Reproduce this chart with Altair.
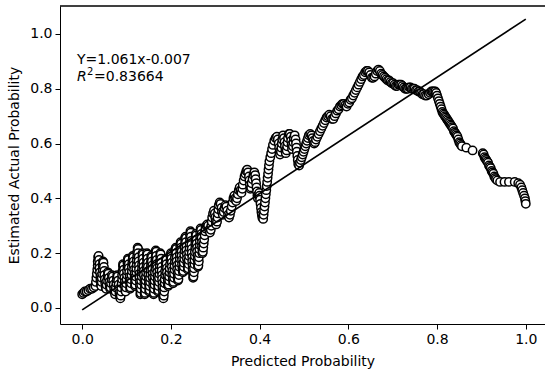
import altair as alt
import pandas as pd

# Calibration curve: (predicted, estimated actual) pairs, in plotting order
pts_start = [
    (0.000, 0.050), (0.003, 0.055), (0.006, 0.060), (0.010, 0.060), (0.014, 0.065),
    (0.018, 0.070), (0.022, 0.070), (0.026, 0.075),
]

pts_low = [
    (0.030, 0.080), (0.031, 0.095), (0.032, 0.110), (0.033, 0.125), (0.034, 0.140), (0.035, 0.155), (0.035, 0.170), (0.036, 0.185),
    (0.037, 0.190), (0.038, 0.175), (0.039, 0.160), (0.039, 0.145), (0.040, 0.130), (0.041, 0.115), (0.041, 0.100), (0.042, 0.085),
    (0.043, 0.080), (0.044, 0.095), (0.044, 0.110), (0.045, 0.125), (0.046, 0.140), (0.046, 0.155), (0.047, 0.170),
    (0.048, 0.165), (0.049, 0.150), (0.050, 0.135), (0.050, 0.120), (0.051, 0.105), (0.052, 0.090), (0.053, 0.075),
    (0.054, 0.070), (0.055, 0.085), (0.056, 0.100), (0.057, 0.115), (0.058, 0.130),
    (0.059, 0.125), (0.060, 0.110), (0.061, 0.095), (0.062, 0.080), (0.063, 0.070),
    (0.064, 0.075), (0.065, 0.090), (0.066, 0.105), (0.067, 0.120),
    (0.069, 0.115), (0.070, 0.100), (0.071, 0.085), (0.072, 0.070), (0.073, 0.060), (0.074, 0.050),
    (0.075, 0.060), (0.076, 0.075), (0.077, 0.090), (0.078, 0.105), (0.079, 0.120),
    (0.080, 0.115), (0.081, 0.100), (0.082, 0.085), (0.083, 0.070), (0.084, 0.055), (0.085, 0.045), (0.086, 0.035),
    (0.087, 0.045), (0.088, 0.060), (0.088, 0.075), (0.089, 0.090), (0.090, 0.105), (0.090, 0.120), (0.091, 0.135), (0.092, 0.150), (0.092, 0.160),
    (0.093, 0.155), (0.094, 0.140), (0.094, 0.125), (0.095, 0.110), (0.096, 0.095), (0.096, 0.080), (0.097, 0.065),
    (0.098, 0.060), (0.099, 0.075), (0.099, 0.090), (0.100, 0.105), (0.101, 0.120), (0.101, 0.135), (0.102, 0.150), (0.102, 0.165), (0.103, 0.180),
    (0.104, 0.175), (0.105, 0.160), (0.105, 0.145), (0.106, 0.130), (0.107, 0.115), (0.107, 0.100), (0.108, 0.085), (0.108, 0.070),
    (0.109, 0.075), (0.110, 0.090), (0.110, 0.105), (0.111, 0.120), (0.112, 0.135), (0.112, 0.150), (0.113, 0.165), (0.114, 0.180), (0.114, 0.190),
    (0.115, 0.185), (0.116, 0.170), (0.116, 0.155), (0.117, 0.140), (0.118, 0.125), (0.118, 0.110), (0.119, 0.095), (0.119, 0.080),
    (0.120, 0.085), (0.121, 0.100), (0.121, 0.115), (0.122, 0.130), (0.122, 0.145), (0.123, 0.160), (0.123, 0.175), (0.124, 0.190), (0.124, 0.205), (0.125, 0.220),
    (0.126, 0.215), (0.126, 0.200), (0.127, 0.185), (0.127, 0.170), (0.128, 0.155), (0.128, 0.140), (0.129, 0.125), (0.129, 0.110), (0.130, 0.095), (0.130, 0.080), (0.131, 0.065), (0.131, 0.050),
    (0.132, 0.055), (0.132, 0.070), (0.133, 0.085), (0.133, 0.100), (0.134, 0.115), (0.134, 0.130), (0.135, 0.145), (0.135, 0.160), (0.136, 0.175), (0.136, 0.190), (0.136, 0.200),
    (0.137, 0.195), (0.137, 0.180), (0.138, 0.165), (0.138, 0.150), (0.139, 0.135), (0.139, 0.120), (0.140, 0.105), (0.140, 0.090), (0.141, 0.075), (0.141, 0.060), (0.141, 0.050),
    (0.142, 0.055), (0.142, 0.070), (0.143, 0.085), (0.143, 0.100), (0.144, 0.115), (0.144, 0.130), (0.145, 0.145), (0.145, 0.160), (0.146, 0.175), (0.146, 0.190), (0.146, 0.200),
    (0.147, 0.195), (0.147, 0.180), (0.148, 0.165), (0.148, 0.150), (0.149, 0.135), (0.149, 0.120), (0.150, 0.105), (0.150, 0.090), (0.151, 0.075), (0.151, 0.060),
    (0.152, 0.065), (0.152, 0.080), (0.153, 0.095), (0.153, 0.110), (0.154, 0.125), (0.154, 0.140), (0.155, 0.155), (0.155, 0.170), (0.156, 0.185), (0.156, 0.190),
    (0.157, 0.185), (0.157, 0.170), (0.158, 0.155), (0.158, 0.140), (0.159, 0.125), (0.159, 0.110), (0.160, 0.095), (0.160, 0.080), (0.161, 0.065), (0.161, 0.050),
    (0.162, 0.055), (0.162, 0.070), (0.163, 0.085), (0.163, 0.100), (0.164, 0.115), (0.164, 0.130), (0.165, 0.145), (0.165, 0.160), (0.165, 0.175), (0.166, 0.190), (0.166, 0.205), (0.166, 0.210),
    (0.167, 0.205), (0.167, 0.190), (0.168, 0.175), (0.168, 0.160), (0.169, 0.145), (0.169, 0.130), (0.170, 0.115), (0.170, 0.100), (0.171, 0.085), (0.171, 0.070), (0.171, 0.060),
    (0.172, 0.065), (0.172, 0.080), (0.173, 0.095), (0.173, 0.110), (0.174, 0.125), (0.174, 0.140), (0.175, 0.155), (0.175, 0.170), (0.176, 0.185), (0.176, 0.200),
    (0.177, 0.195), (0.178, 0.180), (0.178, 0.165), (0.179, 0.150), (0.179, 0.135), (0.180, 0.120), (0.180, 0.105), (0.181, 0.090), (0.181, 0.075), (0.182, 0.060), (0.182, 0.045), (0.183, 0.035),
    (0.184, 0.045), (0.185, 0.060), (0.185, 0.075), (0.186, 0.090), (0.186, 0.105), (0.187, 0.120), (0.187, 0.135), (0.188, 0.150), (0.188, 0.165), (0.189, 0.180),
    (0.190, 0.175), (0.190, 0.160), (0.191, 0.145), (0.191, 0.130), (0.192, 0.115), (0.193, 0.100), (0.193, 0.085), (0.194, 0.080),
    (0.195, 0.085), (0.196, 0.100), (0.196, 0.115), (0.197, 0.130), (0.197, 0.145), (0.198, 0.160), (0.199, 0.175), (0.199, 0.190), (0.200, 0.200),
    (0.201, 0.195), (0.201, 0.180), (0.202, 0.165), (0.202, 0.150), (0.203, 0.135), (0.203, 0.120), (0.204, 0.105), (0.205, 0.090),
    (0.206, 0.095), (0.207, 0.110), (0.207, 0.125), (0.208, 0.140), (0.208, 0.155), (0.209, 0.170), (0.209, 0.185), (0.210, 0.200), (0.210, 0.215), (0.211, 0.220),
    (0.212, 0.215), (0.212, 0.200), (0.213, 0.185), (0.213, 0.170), (0.214, 0.155), (0.214, 0.140), (0.215, 0.125), (0.215, 0.110), (0.216, 0.100),
    (0.217, 0.105), (0.218, 0.120), (0.218, 0.135), (0.219, 0.150), (0.219, 0.165), (0.220, 0.180), (0.220, 0.195), (0.221, 0.210), (0.221, 0.225), (0.222, 0.240),
    (0.223, 0.235), (0.223, 0.220), (0.224, 0.205), (0.224, 0.190), (0.225, 0.175), (0.225, 0.160), (0.226, 0.145), (0.227, 0.130),
    (0.228, 0.135), (0.229, 0.150), (0.229, 0.165), (0.230, 0.180), (0.230, 0.195), (0.231, 0.210), (0.231, 0.225), (0.232, 0.240), (0.232, 0.255), (0.233, 0.260),
    (0.234, 0.255), (0.234, 0.240), (0.235, 0.225), (0.235, 0.210), (0.236, 0.195), (0.236, 0.180), (0.237, 0.165), (0.238, 0.150), (0.238, 0.140),
    (0.239, 0.145), (0.240, 0.160), (0.240, 0.175), (0.241, 0.190), (0.241, 0.205), (0.242, 0.220), (0.242, 0.235), (0.243, 0.250), (0.243, 0.265), (0.244, 0.280),
    (0.245, 0.275), (0.245, 0.260), (0.246, 0.245), (0.246, 0.230), (0.247, 0.215), (0.247, 0.200), (0.248, 0.185), (0.248, 0.170), (0.249, 0.155), (0.249, 0.140), (0.250, 0.125), (0.250, 0.110),
    (0.251, 0.115), (0.252, 0.130), (0.252, 0.145), (0.253, 0.160), (0.253, 0.175), (0.254, 0.190), (0.254, 0.205), (0.255, 0.220), (0.255, 0.235), (0.256, 0.250), (0.256, 0.265), (0.256, 0.270),
    (0.257, 0.265), (0.258, 0.250), (0.258, 0.235), (0.259, 0.220), (0.259, 0.205), (0.260, 0.190), (0.260, 0.175), (0.261, 0.160), (0.261, 0.150),
    (0.262, 0.155), (0.263, 0.170), (0.263, 0.185), (0.264, 0.200), (0.264, 0.215), (0.265, 0.230), (0.265, 0.245), (0.266, 0.260), (0.266, 0.275), (0.267, 0.290),
    (0.268, 0.285), (0.269, 0.270), (0.269, 0.255), (0.270, 0.240), (0.270, 0.225), (0.271, 0.210), (0.271, 0.200),
    (0.272, 0.205), (0.273, 0.220), (0.274, 0.235), (0.275, 0.250), (0.276, 0.265), (0.277, 0.280), (0.278, 0.290), (0.280, 0.300), (0.282, 0.305),
]

pts_mid = [
    (0.284, 0.300), (0.286, 0.285), (0.288, 0.275), (0.290, 0.285), (0.291, 0.300), (0.292, 0.315), (0.293, 0.330),
    (0.295, 0.345), (0.297, 0.355), (0.299, 0.345), (0.300, 0.330), (0.301, 0.315), (0.302, 0.305), (0.304, 0.315),
    (0.305, 0.330), (0.306, 0.345), (0.307, 0.360), (0.308, 0.375), (0.310, 0.385), (0.312, 0.380), (0.314, 0.365),
    (0.315, 0.350), (0.317, 0.340), (0.319, 0.350), (0.321, 0.365), (0.323, 0.375), (0.325, 0.370), (0.327, 0.355),
    (0.329, 0.340), (0.331, 0.330), (0.333, 0.340), (0.335, 0.355), (0.337, 0.370), (0.339, 0.385), (0.341, 0.400),
    (0.343, 0.410), (0.345, 0.400), (0.347, 0.390), (0.349, 0.400), (0.351, 0.415), (0.353, 0.430), (0.355, 0.440),
    (0.357, 0.430), (0.359, 0.420), (0.361, 0.435), (0.362, 0.450), (0.364, 0.465), (0.366, 0.480), (0.368, 0.490),
    (0.370, 0.500), (0.372, 0.505), (0.374, 0.495), (0.376, 0.480), (0.377, 0.465), (0.378, 0.450), (0.379, 0.435),
    (0.381, 0.440), (0.382, 0.455), (0.384, 0.470), (0.386, 0.485), (0.388, 0.495), (0.390, 0.485), (0.391, 0.470),
    (0.392, 0.455), (0.393, 0.440), (0.394, 0.425), (0.395, 0.410), (0.396, 0.400), (0.398, 0.410), (0.399, 0.420),
    (0.400, 0.410), (0.401, 0.395), (0.402, 0.380), (0.403, 0.365), (0.404, 0.350), (0.405, 0.340), (0.406, 0.330),
    (0.408, 0.325), (0.409, 0.340), (0.410, 0.355), (0.411, 0.370), (0.412, 0.385), (0.413, 0.400), (0.414, 0.415),
    (0.415, 0.430), (0.416, 0.445), (0.417, 0.460), (0.418, 0.475), (0.419, 0.490), (0.420, 0.505), (0.421, 0.520),
    (0.422, 0.535), (0.424, 0.550), (0.426, 0.565), (0.428, 0.580), (0.430, 0.595), (0.433, 0.610), (0.436, 0.620),
    (0.439, 0.625), (0.441, 0.615), (0.443, 0.600), (0.444, 0.585), (0.445, 0.570), (0.446, 0.560), (0.448, 0.570),
    (0.449, 0.585), (0.450, 0.600), (0.451, 0.615), (0.453, 0.630), (0.455, 0.620), (0.456, 0.605), (0.457, 0.590),
    (0.458, 0.575), (0.459, 0.565), (0.461, 0.575), (0.462, 0.590), (0.463, 0.605), (0.464, 0.620), (0.466, 0.635),
    (0.468, 0.635), (0.470, 0.625), (0.471, 0.610), (0.472, 0.595), (0.473, 0.580), (0.475, 0.590), (0.476, 0.605),
    (0.477, 0.620), (0.479, 0.630), (0.481, 0.615), (0.482, 0.600), (0.483, 0.585), (0.484, 0.570), (0.485, 0.555),
    (0.486, 0.540), (0.487, 0.525), (0.489, 0.520), (0.491, 0.530), (0.493, 0.540), (0.495, 0.550), (0.497, 0.560),
    (0.499, 0.570), (0.501, 0.580), (0.503, 0.590), (0.505, 0.600), (0.507, 0.610), (0.509, 0.620), (0.511, 0.630),
    (0.514, 0.635), (0.517, 0.630), (0.519, 0.620), (0.521, 0.610), (0.523, 0.600), (0.525, 0.605), (0.527, 0.615),
    (0.530, 0.625), (0.533, 0.635), (0.536, 0.645), (0.539, 0.655), (0.542, 0.665), (0.545, 0.675), (0.548, 0.685),
    (0.551, 0.695), (0.554, 0.700), (0.557, 0.705), (0.560, 0.700), (0.563, 0.690), (0.566, 0.690), (0.569, 0.700),
    (0.572, 0.710), (0.575, 0.720), (0.578, 0.725), (0.581, 0.735), (0.584, 0.740), (0.587, 0.745), (0.590, 0.745),
    (0.593, 0.740), (0.596, 0.735), (0.599, 0.745),
]

pts_high = [
    (0.602, 0.750), (0.605, 0.760), (0.608, 0.765), (0.611, 0.775), (0.614, 0.785), (0.617, 0.795), (0.620, 0.805),
    (0.623, 0.815), (0.626, 0.825), (0.629, 0.835), (0.632, 0.845), (0.635, 0.850), (0.638, 0.860), (0.641, 0.865),
    (0.644, 0.865), (0.647, 0.860), (0.650, 0.850), (0.653, 0.840), (0.656, 0.840), (0.659, 0.845), (0.662, 0.855),
    (0.665, 0.865), (0.668, 0.870), (0.671, 0.865), (0.674, 0.855), (0.677, 0.850), (0.680, 0.845), (0.683, 0.840),
    (0.686, 0.835), (0.689, 0.830), (0.692, 0.830), (0.695, 0.825), (0.698, 0.820), (0.701, 0.820), (0.704, 0.815),
    (0.707, 0.810), (0.710, 0.810), (0.713, 0.815), (0.716, 0.815), (0.719, 0.815), (0.722, 0.810), (0.725, 0.805),
    (0.728, 0.800), (0.731, 0.800), (0.734, 0.800), (0.737, 0.805), (0.740, 0.805), (0.743, 0.800), (0.746, 0.800),
    (0.749, 0.800), (0.752, 0.795), (0.755, 0.795), (0.758, 0.790), (0.761, 0.790), (0.764, 0.785), (0.767, 0.780),
    (0.770, 0.780), (0.773, 0.775), (0.777, 0.775), (0.781, 0.780), (0.784, 0.785), (0.787, 0.790), (0.790, 0.790),
    (0.793, 0.790), (0.796, 0.790), (0.798, 0.785), (0.800, 0.775), (0.802, 0.765), (0.804, 0.755), (0.806, 0.745),
    (0.808, 0.735), (0.810, 0.725), (0.812, 0.715), (0.814, 0.710), (0.816, 0.705), (0.818, 0.700), (0.820, 0.695),
    (0.822, 0.690), (0.824, 0.685), (0.826, 0.680), (0.828, 0.675), (0.830, 0.670), (0.832, 0.665), (0.834, 0.660),
    (0.836, 0.655), (0.838, 0.645), (0.840, 0.640), (0.842, 0.635), (0.844, 0.630), (0.846, 0.625), (0.848, 0.615),
    (0.850, 0.605), (0.852, 0.600), (0.854, 0.595), (0.856, 0.590), (0.866, 0.585), (0.880, 0.575),
    (0.903, 0.565), (0.905, 0.560), (0.907, 0.550), (0.909, 0.545), (0.911, 0.540), (0.913, 0.535), (0.915, 0.530),
    (0.917, 0.520), (0.919, 0.515), (0.921, 0.510), (0.923, 0.500), (0.925, 0.495), (0.927, 0.490), (0.929, 0.480),
    (0.931, 0.475), (0.933, 0.470), (0.936, 0.465), (0.942, 0.460), (0.952, 0.460), (0.962, 0.460), (0.975, 0.460),
    (0.983, 0.455), (0.987, 0.450), (0.990, 0.440), (0.992, 0.430), (0.994, 0.420), (0.996, 0.410), (0.998, 0.400),
    (0.999, 0.390), (1.000, 0.380),
]

# Fitted line and its fit statistic
slope = 1.061
intercept = -0.007
r_squared = "0.83664"
line_x = [0.0, 1.0]

tick_values = [0.0, 0.2, 0.4, 0.6, 0.8, 1.0]

FONT = "DejaVu Sans"
W, H = 485, 318

pts = pts_start + pts_low + pts_mid + pts_high
df = pd.DataFrame(pts, columns=["pred", "actual"])
df["order"] = range(len(df))

fit = pd.DataFrame({"pred": line_x, "actual": [slope * v + intercept for v in line_x]})

x_scale = alt.Scale(domain=[-0.05, 1.0433], nice=False, zero=False)
y_scale = alt.Scale(domain=[-0.0585, 1.102], nice=False, zero=False)

axis_style = dict(
    grid=False, domainColor="black", tickColor="black", tickSize=5,
    labelColor="black", titleColor="black", labelFont=FONT, titleFont=FONT,
    labelFontSize=14, titleFontSize=14, titleFontWeight="normal",
    labelPadding=3, domainWidth=1, tickWidth=1,
)
x_axis = alt.Axis(values=tick_values, format=".1f", title="Predicted Probability",
                  titlePadding=8, **axis_style)
y_axis = alt.Axis(values=tick_values, format=".1f", title="Estimated Actual Probability",
                  titlePadding=8, **axis_style)

points = alt.Chart(df).mark_point(
    shape="circle", filled=False, fill="white", fillOpacity=1,
    stroke="black", strokeWidth=1.5, size=70, opacity=1,
).encode(
    x=alt.X("pred:Q", scale=x_scale, axis=x_axis),
    y=alt.Y("actual:Q", scale=y_scale, axis=y_axis),
    order=alt.Order("order:Q"),
)

# top frame edge of the plot area
top_edge = alt.Chart(fit).mark_rule(color="black", strokeWidth=1).encode(
    x=alt.value(0), x2=alt.value(W), y=alt.value(0),
)

fit_line = alt.Chart(fit).mark_line(color="black", strokeWidth=1.7).encode(
    x=alt.X("pred:Q", scale=x_scale),
    y=alt.Y("actual:Q", scale=y_scale),
)

anno = pd.DataFrame({"pred": [-0.0117], "actual": [0.905]})
anno2 = pd.DataFrame({"pred": [-0.0117], "actual": [0.843]})
enc = dict(x=alt.X("pred:Q", scale=x_scale), y=alt.Y("actual:Q", scale=y_scale))

eq_text = alt.Chart(anno).mark_text(
    text=f"Y={slope}x{intercept:.3f}", align="left", baseline="middle",
    font=FONT, fontSize=14, color="black",
).encode(**enc)

r_text = alt.Chart(anno2).mark_text(
    text="R", align="left", baseline="middle", font=FONT, fontSize=14,
    fontStyle="italic", color="black",
).encode(**enc)

sup_text = alt.Chart(anno2).mark_text(
    text="2", align="left", baseline="middle", font=FONT, fontSize=10,
    color="black", dx=10, dy=-5,
).encode(**enc)

val_text = alt.Chart(anno2).mark_text(
    text=f"={r_squared}", align="left", baseline="middle", font=FONT,
    fontSize=14, color="black", dx=17,
).encode(**enc)

chart = alt.layer(
    points, fit_line, top_edge, eq_text, r_text, sup_text, val_text
).properties(
    width=W, height=H,
    autosize=alt.AutoSizeParams(type="none"),
    padding={"left": 60, "top": 6, "right": 0, "bottom": 47},
    background="white",
).configure_view(strokeWidth=0)

chart.save("out.html", embed_options={"renderer": "svg", "actions": False})
